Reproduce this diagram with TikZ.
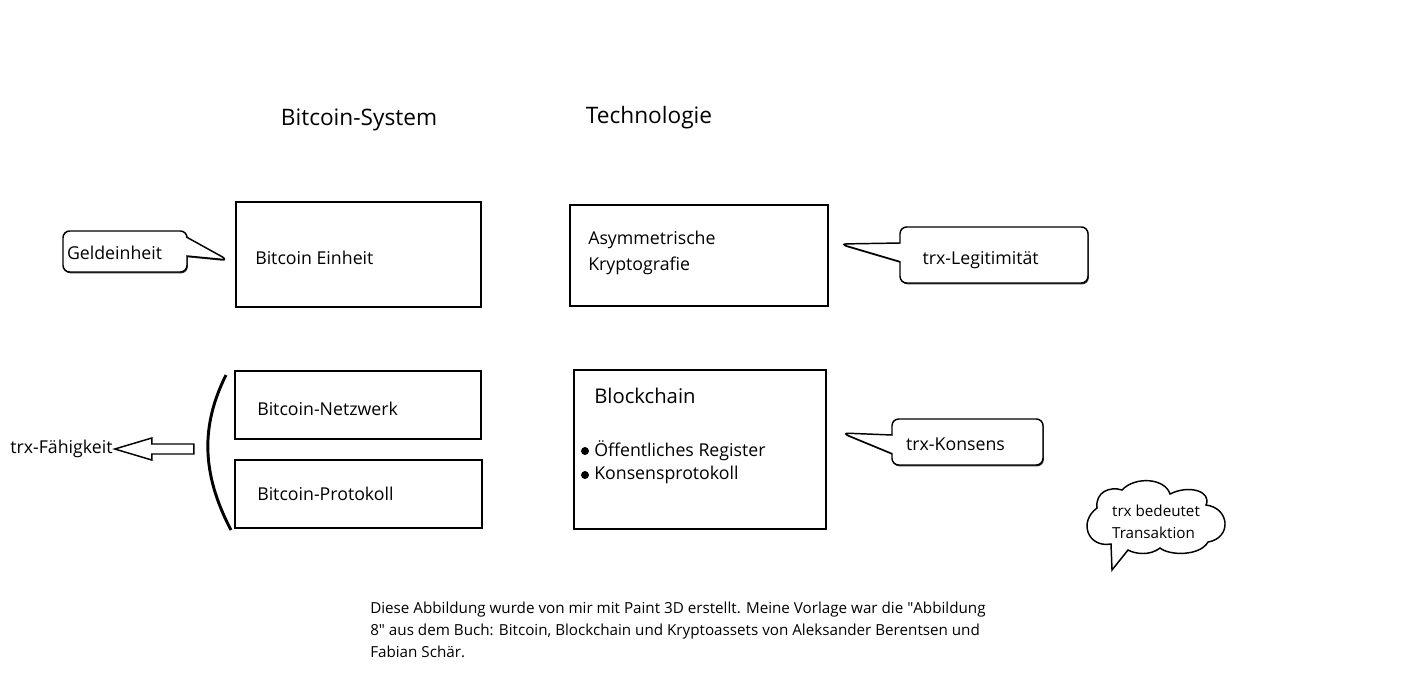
\documentclass[tikz,border=0pt]{standalone}
\usepackage{fontspec}
\setmainfont{Open Sans}
\usetikzlibrary{shapes.callouts,shadows}

\tikzset{
  box/.style={draw, line width=1.4pt, inner sep=0pt},
  lbl/.style={anchor=west, inner sep=0pt, align=left, font=\fontsize{13.3}{19.5}\selectfont},
  titel/.style={inner sep=0pt, font=\fontsize{17}{20}\selectfont},
  bubble/.style={rectangle callout, draw, line width=1.1pt, rounded corners=5pt,
    fill=white, align=left, inner ysep=0pt, font=\fontsize{13.3}{16}\selectfont,
    callout pointer width=14pt,
    drop shadow={shadow xshift=0.6pt, shadow yshift=-1pt, opacity=1, fill=black!80}},
  klein/.style={inner sep=0pt, align=left, font=\fontsize{11.4}{16.5}\selectfont},
}

\begin{document}
\begin{tikzpicture}[x=0.75pt, y=-0.75pt]
  \useasboundingbox[fill=white] (0,0) rectangle (1416,672);

  % Ueberschriften
  \node[titel] (system) at (359,120) {Bitcoin-System};
  \node[titel] (technik) at (649,118) {Technologie};

  % Kaesten links
  \node[box, minimum width=183.75pt, minimum height=78.75pt] (einheitbox) at (358.5,254.5) {};
  \node[lbl] (einheit) at (255,258) {Bitcoin Einheit};
  \node[box, minimum width=184.5pt, minimum height=51pt] (netzbox) at (358,405) {};
  \node[lbl] (netz) at (257,409) {Bitcoin-Netzwerk};
  \node[box, minimum width=185.25pt, minimum height=51pt] (protbox) at (358.5,494) {};
  \node[lbl] (prot) at (257,494) {Bitcoin-Protokoll};

  % Kaesten rechts
  \node[box, minimum width=193.5pt, minimum height=75.75pt] (kryptobox) at (699,255.5) {};
  \node[lbl] (krypto) at (588,253) {Asymmetrische\\Kryptografie};
  \node[box, minimum width=189pt, minimum height=119.25pt] (chainbox) at (700,449.5) {};
  \node[lbl, font=\fontsize{15.2}{18}\selectfont] (chain) at (594,396) {Blockchain};
  \node[lbl] (register) at (594,451) {Öffentliches Register};
  \node[lbl] (konsprot) at (594,475) {Konsensprotokoll};
  \fill (585,451) circle (3pt);
  \fill (585,475) circle (3pt);

  % Sprechblasen
  \node[bubble, minimum width=93pt, minimum height=30.75pt, text width=87pt, inner xsep=3pt,
    text height=13pt, text depth=1.4pt,
    callout absolute pointer={(228,260)}] (geld) at (125,251.5) {Geldeinheit};
  \node[bubble, minimum width=141pt, minimum height=42pt, text width=107pt, inner xsep=17pt,
    text height=15pt, text depth=1.5pt,
    callout absolute pointer={(840,244)}] (legit) at (994,255) {trx-Legitimität};
  \node[bubble, minimum width=113.25pt, minimum height=34.5pt, text width=92pt, inner xsep=10.5pt,
    text height=13.5pt, text depth=1.2pt,
    callout absolute pointer={(842,433)}] (konsens) at (967.5,442) {trx-Konsens};

  % Klammer und Pfeil
  \draw[line width=2.2pt] (226,375) .. controls (201,425) and (201,473) .. (231,530);
  \node[lbl] (faehig) at (10,449) {trx-Fähigkeit};
  \draw[line width=1.1pt, line join=miter] (faehig.east) ++(2,0) -- ++(37,-11) -- ++(0,6) -- ++(42,0)
    -- ++(0,10) -- ++(-42,0) -- ++(0,6) -- cycle;

  % Wolke
  \coordinate (spitze) at (1112,570);
  \draw[line width=1.1pt, line join=miter] (1111,544)
    .. controls (1088,548) and (1078,522) .. (1097,508)
    .. controls (1095,492) and (1110,486) .. (1122,490)
    .. controls (1135,476) and (1165,478) .. (1170,494)
    .. controls (1190,484) and (1212,492) .. (1206,505)
    .. controls (1230,508) and (1232,538) .. (1208,542)
    .. controls (1200,556) and (1170,556) .. (1160,548)
    .. controls (1150,556) and (1135,554) .. (1128,550)
    -- (spitze) -- cycle;
  \node[klein] (wolke) at (1156,522) {trx bedeutet\\Transaktion};

  % Fussnote
  \node[klein, anchor=base west] (notiz) at (370,657)
    {Diese Abbildung wurde von mir mit Paint 3D erstellt. Meine Vorlage war die \textquotedbl Abbildung\\
     8\textquotedbl{} aus dem Buch: Bitcoin, Blockchain und Kryptoassets von Aleksander Berentsen und\\
     Fabian Schär.};
\end{tikzpicture}
\end{document}
